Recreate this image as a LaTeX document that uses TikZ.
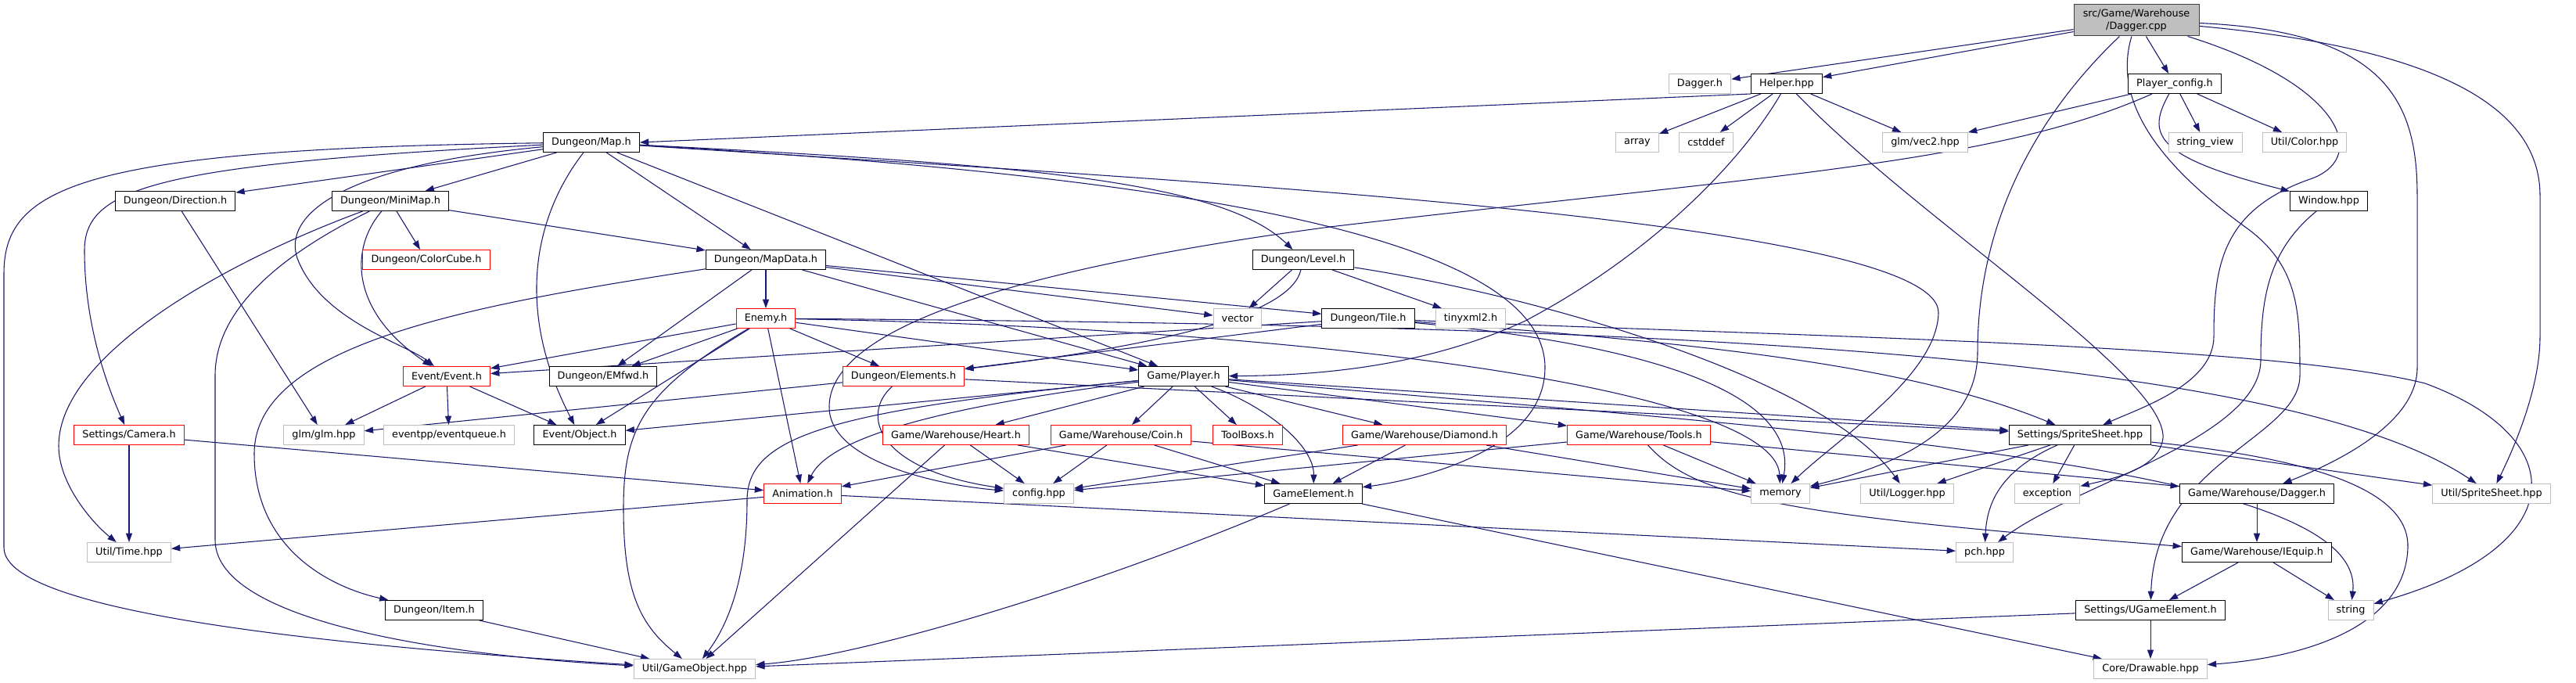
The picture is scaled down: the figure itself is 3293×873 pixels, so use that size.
\documentclass[tikz,border=0pt]{standalone}
\usepackage{fontspec}
\setmainfont{DejaVu Sans}
\usetikzlibrary{arrows.meta, backgrounds}

\definecolor{edgeblue}{HTML}{191970}
\definecolor{sysgray}{HTML}{BFBFBF}

\begin{document}
\begin{tikzpicture}[
    x=0.75pt, y=-0.75pt,
    hdr/.style={draw=black, line width=0.75pt, fill=white, inner xsep=8pt, inner ysep=0pt,
        minimum height=18.75pt, font=\fontsize{9.6}{11.5}\selectfont},
    syshdr/.style={hdr, draw=sysgray},
    cuthdr/.style={hdr, draw=red},
    srcfile/.style={hdr, fill=sysgray, draw=black!75, align=center, minimum width=120pt, minimum height=30pt},
    inc/.style={->, draw=edgeblue, line width=0.8pt},
    >={Triangle[length=8.5pt, width=6pt]},
]
    \useasboundingbox (0,0) rectangle (3293,873);

    \node[srcfile] (root)    at (2731,26) {src/Game/Warehouse\\/Dagger.cpp};

    \node[syshdr] (daggerh)  at (2173,107) {Dagger.h};
    \node[hdr]    (helper)   at (2284,107) {Helper.hpp};
    \node[hdr]    (pconfig)  at (2780,107) {Player\_config.h};

    \node[hdr]    (map)      at (756,182)  {Dungeon/Map.h};
    \node[syshdr] (array)    at (2093,182) {array};
    \node[syshdr] (cstddef)  at (2181,182) {cstddef};
    \node[syshdr] (vecii)    at (2461,182) {glm/vec2.hpp};
    \node[syshdr] (strview)  at (2819,182) {string\_view};
    \node[syshdr] (color)    at (2946,182) {Util/Color.hpp};

    \node[hdr]    (direction) at (224,257) {Dungeon/Direction.h};
    \node[hdr]    (minimap)  at (499,257)  {Dungeon/MiniMap.h};
    \node[hdr]    (window)   at (2977,257) {Window.hpp};

    \node[cuthdr] (colorcube) at (545,332) {Dungeon/ColorCube.h};
    \node[hdr]    (mapdata)  at (979,332)  {Dungeon/MapData.h};
    \node[hdr]    (level)    at (1666,332) {Dungeon/Level.h};

    \node[cuthdr] (enemy)    at (979,407)  {Enemy.h};
    \node[syshdr] (vector)   at (1582,407) {vector};
    \node[hdr]    (tile)     at (1749,407) {Dungeon/Tile.h};
    \node[syshdr] (tinyxml)  at (1880,407) {tinyxml2.h};

    \node[cuthdr] (event)    at (571,481)  {Event/Event.h};
    \node[hdr]    (emfwd)    at (771,481)  {Dungeon/EMfwd.h};
    \node[cuthdr] (elements) at (1155,481) {Dungeon/Elements.h};
    \node[hdr]    (player)   at (1513,481) {Game/Player.h};

    \node[cuthdr] (camera)   at (165,556)  {Settings/Camera.h};
    \node[syshdr] (glm)      at (414,556)  {glm/glm.hpp};
    \node[syshdr] (eventq)   at (574,556)  {eventpp/eventqueue.h};
    \node[hdr]    (object)   at (741,556)  {Event/Object.h};
    \node[cuthdr] (heart)    at (1222,556) {Game/Warehouse/Heart.h};
    \node[cuthdr] (coin)     at (1433,556) {Game/Warehouse/Coin.h};
    \node[cuthdr] (toolboxs) at (1595,556) {ToolBoxs.h};
    \node[cuthdr] (diamond)  at (1821,556) {Game/Warehouse/Diamond.h};
    \node[cuthdr] (tools)    at (2095,556) {Game/Warehouse/Tools.h};
    \node[hdr]    (spritesheet) at (2659,556) {Settings/SpriteSheet.hpp};

    \node[cuthdr] (animation) at (1026,631) {Animation.h};
    \node[syshdr] (config)   at (1328,631) {config.hpp};
    \node[hdr]    (gameelem) at (1679,631) {GameElement.h};
    \node[syshdr] (memory)   at (2276,631) {memory};
    \node[syshdr] (logger)   at (2438,631) {Util/Logger.hpp};
    \node[syshdr] (exception) at (2617,631) {exception};
    \node[hdr]    (wdagger)  at (2885,631) {Game/Warehouse/Dagger.h};
    \node[syshdr] (usprite)  at (3185,631) {Util/SpriteSheet.hpp};

    \node[syshdr] (time)     at (165,706)  {Util/Time.hpp};
    \node[syshdr] (pch)      at (2537,706) {pch.hpp};
    \node[hdr]    (iequip)   at (2885,706) {Game/Warehouse/IEquip.h};

    \node[hdr]    (item)     at (555,780)  {Dungeon/Item.h};
    \node[hdr]    (ugame)    at (2749,780) {Settings/UGameElement.h};
    \node[syshdr] (string)   at (3005,780) {string};

    \node[syshdr] (gameobj)  at (888,855)  {Util/GameObject.hpp};
    \node[syshdr] (drawable) at (2749,855) {Core/Drawable.hpp};

    \begin{scope}[on background layer]
    \fill[white] (0,0) rectangle (3293,873);

    \draw[inc] (root) -- (daggerh);
    \draw[inc] (root) -- (helper);
    \draw[inc] (root) -- (pconfig);
    \draw[inc] (root) .. controls (2590,160) and (2528,300) .. (2528,450) .. controls (2528,560) and (2400,600) .. (memory);
    \draw[inc] (root) .. controls (2700,130) and (2760,210) .. (2870,290) .. controls (2940,340) and (2940,400) .. (2940,480) .. controls (2940,560) and (2755,590) .. (ugame);
    \draw[inc] (root) .. controls (3000,110) and (3030,205) .. (2950,230) .. controls (2840,270) and (2830,340) .. (2830,430) .. controls (2830,490) and (2740,520) .. (spritesheet);
    \draw[inc] (root) .. controls (3050,40) and (3090,130) .. (3090,250) -- (3090,470) .. controls (3090,540) and (2990,590) .. (wdagger);
    \draw[inc] (root) .. controls (3100,60) and (3247,130) .. (3247,250) -- (3247,430) .. controls (3247,500) and (3210,580) .. (usprite);

    \draw[inc] (helper.south west) -- (map.east);
    \draw[inc] (helper) -- (array);
    \draw[inc] (helper) -- (cstddef);
    \draw[inc] (helper) -- (vecii);
    \draw[inc] (helper) .. controls (2230,200) and (2120,320) .. (1950,410) .. controls (1820,470) and (1680,480) .. (player);
    \draw[inc] (helper) .. controls (2450,280) and (2770,480) .. (2765,560) .. controls (2760,600) and (2700,612) .. (exception);

    \draw[inc] (pconfig) -- (vecii);
    \draw[inc] (pconfig) -- (strview);
    \draw[inc] (pconfig) -- (color);
    \draw[inc] (pconfig) .. controls (2745,170) and (2750,200) .. (window);
    \draw[inc] (pconfig) .. controls (2550,210) and (2250,225) .. (1700,290) .. controls (1250,350) and (1060,430) .. (1060,520) .. controls (1060,590) and (1200,620) .. (config);

    \draw[inc] (map) -- (direction);
    \draw[inc] (map) -- (minimap);
    \draw[inc] (map) -- (mapdata);
    \draw[inc] (map) -- (player);
    \draw[inc] (map) .. controls (450,210) and (360,270) .. (380,330) .. controls (410,410) and (520,440) .. (event);
    \draw[inc] (map) .. controls (680,280) and (660,400) .. (object);
    \draw[inc] (map) .. controls (200,210) and (108,240) .. (108,320) .. controls (108,420) and (140,500) .. (camera);
    \draw[inc] (map) .. controls (100,190) and (5,240) .. (5,350) -- (5,700) .. controls (5,790) and (500,830) .. (gameobj);
    \draw[inc] (map) .. controls (1300,210) and (1560,230) .. (level);
    \draw[inc] (map) .. controls (1500,230) and (2480,280) .. (2478,400) .. controls (2476,480) and (2350,560) .. (memory);
    \draw[inc] (map) .. controls (1500,225) and (1975,300) .. (1975,470) .. controls (1975,580) and (1800,615) .. (gameelem);

    \draw[inc] (minimap) -- (colorcube);
    \draw[inc] (minimap) -- (mapdata);
    \draw[inc] (minimap) .. controls (445,320) and (450,400) .. (event);
    \draw[inc] (minimap) .. controls (300,330) and (75,450) .. (75,570) .. controls (75,620) and (120,670) .. (time);
    \draw[inc] (minimap) .. controls (350,330) and (275,400) .. (275,480) -- (275,690) .. controls (275,800) and (600,840) .. (gameobj);

    \draw[inc] (direction) -- (glm);

    \draw[inc] (mapdata) -- (enemy);
    \draw[inc] (mapdata) -- (emfwd);
    \draw[inc] (mapdata) -- (tile);
    \draw[inc] (mapdata) -- (vector);
    \draw[inc] (mapdata) -- (player);
    \draw[inc] (mapdata) .. controls (600,390) and (325,440) .. (325,580) .. controls (325,700) and (420,750) .. (item);

    \draw[inc] (level) -- (vector);
    \draw[inc] (level) -- (tinyxml);
    \draw[inc] (level) .. controls (1650,400) and (1500,440) .. (elements);
    \draw[inc] (level) .. controls (1950,375) and (2330,480) .. (logger);

    \draw[inc] (enemy) -- (event);
    \draw[inc] (enemy) -- (emfwd);
    \draw[inc] (enemy) -- (object);
    \draw[inc] (enemy) -- (animation);
    \draw[inc] (enemy) -- (elements);
    \draw[inc] (enemy) -- (player);
    \draw[inc] (enemy) .. controls (820,500) and (797,550) .. (797,650) .. controls (797,760) and (820,800) .. (gameobj);
    \draw[inc] (enemy) .. controls (1700,420) and (2270,500) .. (memory);
    \draw[inc] (enemy) .. controls (2000,415) and (2900,440) .. (usprite);

    \draw[inc] (tile) -- (event);
    \draw[inc] (tile) -- (elements);
    \draw[inc] (tile) .. controls (2200,440) and (2450,470) .. (spritesheet);
    \draw[inc] (tile) .. controls (2100,440) and (2300,500) .. (memory);
    \draw[inc] (tile) .. controls (2300,430) and (2900,440) .. (3100,490) .. controls (3290,560) and (3290,700) .. (string);

    \draw[inc] (elements) -- (glm);
    \draw[inc] (elements) .. controls (1100,530) and (1120,600) .. (config);
    \draw[inc] (elements) -- (spritesheet);

    \draw[inc] (event) -- (glm);
    \draw[inc] (event) -- (eventq);
    \draw[inc] (event) -- (object);

    \draw[inc] (player) -- (object);
    \draw[inc] (player) -- (heart);
    \draw[inc] (player) -- (coin);
    \draw[inc] (player) -- (toolboxs);
    \draw[inc] (player) -- (diamond);
    \draw[inc] (player) -- (tools);
    \draw[inc] (player) -- (spritesheet);
    \draw[inc] (player) .. controls (1620,520) and (1680,570) .. (gameelem);
    \draw[inc] (player) .. controls (1200,520) and (1060,560) .. (animation);
    \draw[inc] (player) .. controls (1050,525) and (955,560) .. (955,640) .. controls (955,740) and (930,800) .. (gameobj);
    \draw[inc] (player) .. controls (2400,555) and (3025,600) .. (string);

    \draw[inc] (camera) -- (animation);
    \draw[inc] (camera) -- (time);

    \draw[inc] (heart) -- (config);
    \draw[inc] (heart) -- (gameelem);
    \draw[inc] (heart) -- (gameobj);

    \draw[inc] (coin) -- (animation);
    \draw[inc] (coin) -- (config);
    \draw[inc] (coin) -- (gameelem);
    \draw[inc] (coin) -- (memory);

    \draw[inc] (diamond) -- (config);
    \draw[inc] (diamond) -- (gameelem);
    \draw[inc] (diamond) -- (memory);

    \draw[inc] (tools) -- (config);
    \draw[inc] (tools) -- (memory);
    \draw[inc] (tools) -- (wdagger);
    \draw[inc] (tools) .. controls (2170,640) and (2300,660) .. (iequip);

    \draw[inc] (spritesheet) -- (memory);
    \draw[inc] (spritesheet) -- (logger);
    \draw[inc] (spritesheet) -- (exception);
    \draw[inc] (spritesheet) -- (usprite);
    \draw[inc] (spritesheet) .. controls (2560,600) and (2540,640) .. (pch);
    \draw[inc] (spritesheet) .. controls (3000,590) and (3080,640) .. (3078,700) .. controls (3075,800) and (2950,840) .. (drawable);

    \draw[inc] (animation) -- (time);
    \draw[inc] (animation) -- (pch);
    \draw[inc] (window) .. controls (2900,320) and (2890,380) .. (2890,460) .. controls (2890,560) and (2650,620) .. (pch);

    \draw[inc] (gameelem) .. controls (1400,750) and (1100,840) .. (gameobj);
    \draw[inc] (gameelem) -- (drawable);
    \draw[inc] (wdagger) -- (iequip);
    \draw[inc] (iequip) -- (ugame);
    \draw[inc] (iequip) -- (string);
    \draw[inc] (ugame) -- (gameobj);
    \draw[inc] (ugame) -- (drawable);
    \draw[inc] (item) -- (gameobj);
    \end{scope}

\end{tikzpicture}
\end{document}
